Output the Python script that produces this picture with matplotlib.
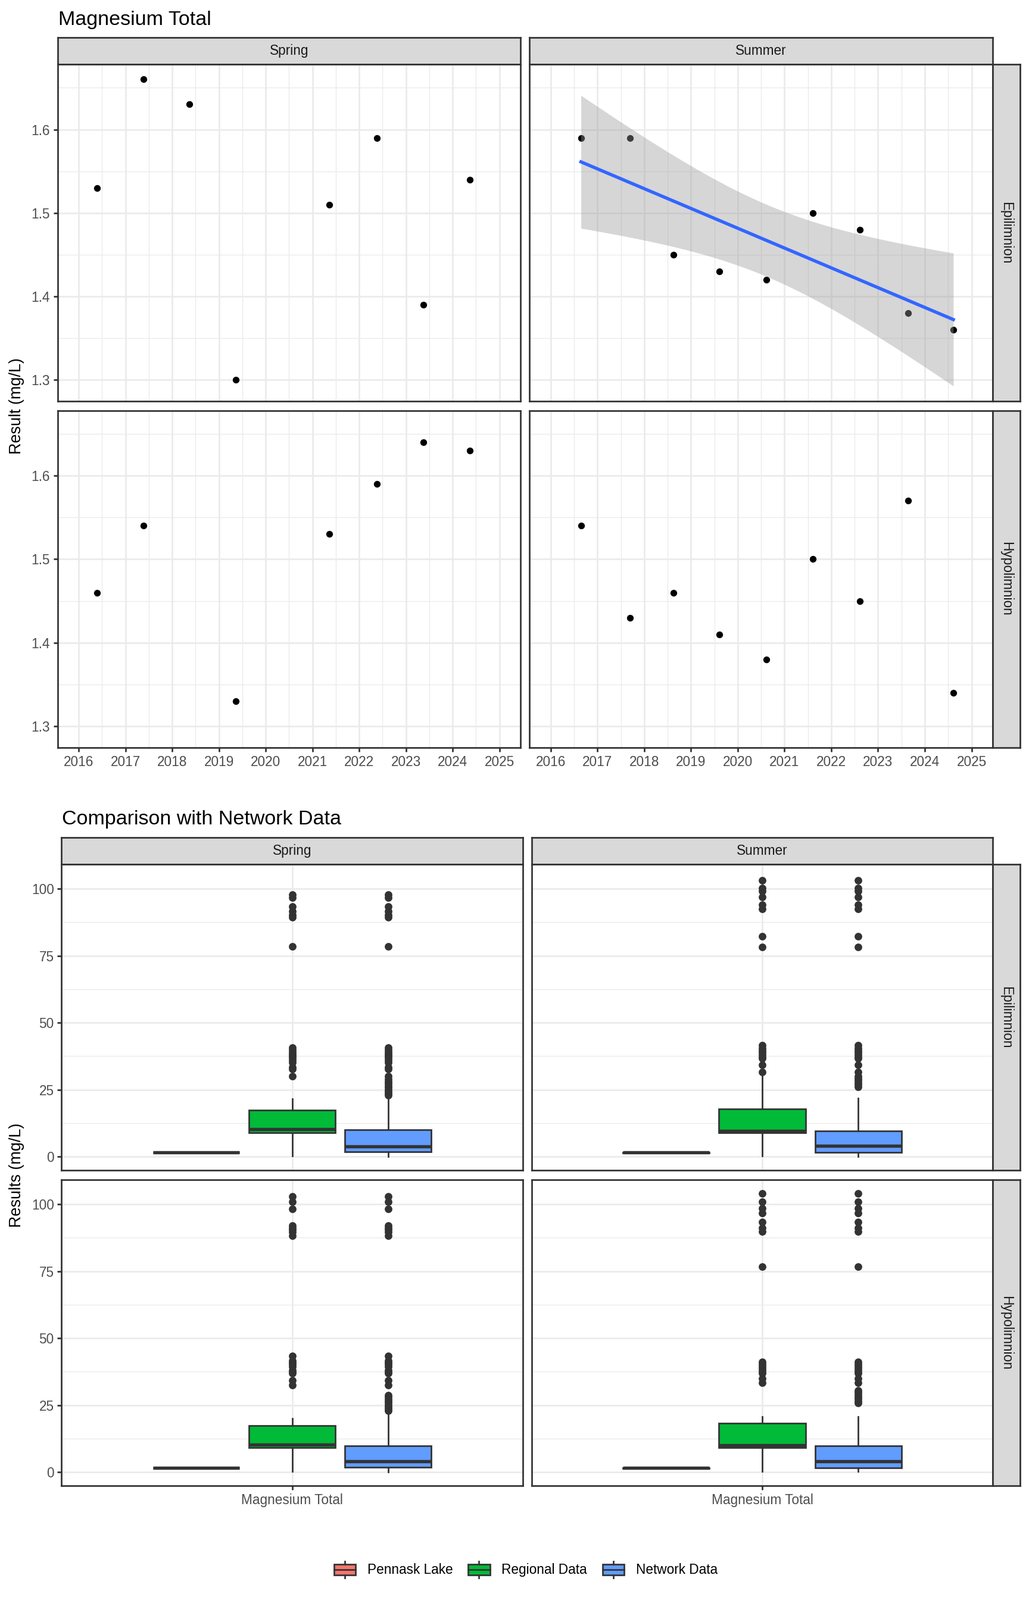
import matplotlib
matplotlib.use("Agg")
import matplotlib.dates as mdates
import matplotlib.pyplot as plt
import numpy as np
import pandas as pd
from matplotlib.cbook import boxplot_stats
from matplotlib.legend_handler import HandlerBase
from matplotlib.lines import Line2D
from matplotlib.patches import Patch, Rectangle
from matplotlib.ticker import FormatStrFormatter

plt.rcParams["font.family"] = ["Liberation Sans", "DejaVu Sans"]

# ---------------------------------------------------------------------------
# Data: lake time series (mg/L)
# ---------------------------------------------------------------------------
spring_epi_dates = ["2016-05-26", "2017-05-22", "2018-05-15", "2019-05-12",
                    "2021-05-15", "2022-05-19", "2023-05-16", "2024-05-15"]
spring_epi_vals = [1.53, 1.66, 1.63, 1.30, 1.51, 1.59, 1.39, 1.54]

spring_hypo_dates = ["2016-05-26", "2017-05-22", "2019-05-12", "2021-05-15",
                     "2022-05-19", "2023-05-16", "2024-05-15"]
spring_hypo_vals = [1.46, 1.54, 1.33, 1.53, 1.59, 1.64, 1.63]

summer_dates = ["2016-08-25", "2017-09-12", "2018-08-18", "2019-08-11", "2020-08-11",
                "2021-08-11", "2022-08-11", "2023-08-22", "2024-08-11"]
summer_epi_vals = [1.59, 1.59, 1.45, 1.43, 1.42, 1.50, 1.48, 1.38, 1.36]
summer_hypo_vals = [1.54, 1.43, 1.46, 1.41, 1.38, 1.50, 1.45, 1.57, 1.34]

seasons = ["Spring", "Summer"]
depths = ["Epilimnion", "Hypolimnion"]
groups = ["Pennask Lake", "Regional Data", "Network Data"]
group_colors = ["#F8766D", "#00BA38", "#619CFF"]
parameter = "Magnesium Total"

# ---------------------------------------------------------------------------
# Data: comparison box plot summaries (mg/L)
# ---------------------------------------------------------------------------
upper_spring_epi = [78.5, 89.3, 90.2, 91.5, 93.4, 96.7, 97.9]
lower_spring_epi = [30.1, 32.7, 33.4, 35.2, 36.0, 36.8, 37.5, 38.2, 39.0, 39.8, 40.7]
regional_spring_epi = dict(whislo=0.3, q1=9.0, med=10.2, q3=17.3, whishi=21.5,
                           fliers=lower_spring_epi + upper_spring_epi)
network_spring_epi = dict(whislo=0.0, q1=1.7, med=3.7, q3=9.9, whishi=22.0,
                          fliers=[22.8, 23.5, 24.3, 25.0, 25.8, 26.5, 27.3, 28.0, 28.8]
                          + lower_spring_epi + upper_spring_epi)

upper_summer_epi = [78.3, 82.2, 92.5, 94.0, 96.9, 99.2, 100.2, 103.2]
lower_summer_epi = [31.5, 34.2, 36.7, 37.2, 38.0, 38.8, 39.6, 40.4, 41.5]
regional_summer_epi = dict(whislo=0.3, q1=9.0, med=9.5, q3=17.8, whishi=30.3,
                           fliers=lower_summer_epi + upper_summer_epi)
network_summer_epi = dict(whislo=0.0, q1=1.6, med=4.1, q3=9.5, whishi=21.8,
                          fliers=[26.0, 26.8, 27.6, 28.4, 29.2, 30.0]
                          + lower_summer_epi + upper_summer_epi)

upper_spring_hypo = [88.3, 89.6, 90.5, 91.1, 92.0, 98.2, 100.8, 102.9]
lower_spring_hypo = [32.5, 34.2, 36.8, 37.4, 38.0, 39.4, 40.2, 40.9, 41.5, 43.3]
regional_spring_hypo = dict(whislo=0.2, q1=9.2, med=10.3, q3=17.3, whishi=20.1,
                            fliers=lower_spring_hypo + upper_spring_hypo)
network_spring_hypo = dict(whislo=0.0, q1=1.7, med=3.9, q3=9.8, whishi=22.0,
                           fliers=[22.9, 23.6, 24.3, 25.0, 25.8, 26.5, 27.2, 28.0, 28.6]
                           + lower_spring_hypo + upper_spring_hypo)

upper_summer_hypo = [76.7, 89.9, 91.1, 93.4, 96.6, 98.4, 100.9, 104.0]
lower_summer_hypo = [33.3, 34.8, 36.8, 37.6, 38.5, 39.4, 40.2, 41.2]
regional_summer_hypo = dict(whislo=0.2, q1=9.2, med=10.1, q3=18.2, whishi=20.6,
                            fliers=lower_summer_hypo + upper_summer_hypo)
network_summer_hypo = dict(whislo=0.2, q1=1.5, med=4.1, q3=9.8, whishi=20.6,
                           fliers=[25.7, 26.5, 27.3, 28.1, 28.9, 29.7, 30.5]
                           + lower_summer_hypo + upper_summer_hypo)

# ---------------------------------------------------------------------------
# Style (ggplot2 theme_bw look)
# ---------------------------------------------------------------------------
W, H, DPI = 1728, 2688, 144
GREY20, GREY30, GREY10 = "#333333", "#4D4D4D", "#1A1A1A"
GRID = "#EBEBEB"
STRIP_FILL = "#D9D9D9"
LW = 1.37
FS = 11.3
T_975_DF7 = 2.3646  # t quantile for the lm confidence band (n=9)

# pixel layout
TOP_STRIP = (62.5, 107.7)
TOP_ROWS = [(107.7, 674.2), (689.5, 1256.0)]
TOP_COLS = [(96.7, 874.0), (889.3, 1667.0)]
BOT_STRIP = (1406.7, 1451.7)
BOT_ROWS = [(1451.7, 1966.4), (1981.7, 2496.4)]
BOT_COLS = [(103.3, 877.7), (892.9, 1667.0)]
RSTRIP = (1667.0, 1713.0)

fig = plt.figure(figsize=(W / DPI, H / DPI), dpi=DPI)


def px_axes(x0, y0, x1, y1):
    return fig.add_axes([x0 / W, 1 - y1 / H, (x1 - x0) / W, (y1 - y0) / H])


def style_panel(ax, show_x, show_y):
    for s in ax.spines.values():
        s.set_color(GREY20)
        s.set_linewidth(LW)
        s.set_zorder(10)
    ax.grid(which="major", color=GRID, lw=LW, zorder=0)
    ax.grid(which="minor", color=GRID, lw=LW / 2, zorder=0)
    ax.set_axisbelow(True)
    ax.tick_params(which="minor", length=0)
    ax.tick_params(which="major", length=3.5, width=LW, color=GREY20,
                   labelsize=FS, labelcolor=GREY30, pad=2.8,
                   bottom=show_x, labelbottom=show_x, left=show_y, labelleft=show_y)


def strip(x0, y0, x1, y1, label, rotation=0):
    sax = px_axes(x0, y0, x1, y1)
    sax.set_facecolor(STRIP_FILL)
    sax.set_xticks([])
    sax.set_yticks([])
    for s in sax.spines.values():
        s.set_color(GREY20)
        s.set_linewidth(LW)
    sax.text(0.5, 0.5, label, transform=sax.transAxes, ha="center", va="center",
             fontsize=FS, color=GREY10, rotation=rotation)


# ---------------------------------------------------------------------------
# Top: time series
# ---------------------------------------------------------------------------
series = {
    ("Spring", "Epilimnion"): (spring_epi_dates, spring_epi_vals),
    ("Spring", "Hypolimnion"): (spring_hypo_dates, spring_hypo_vals),
    ("Summer", "Epilimnion"): (summer_dates, summer_epi_vals),
    ("Summer", "Hypolimnion"): (summer_dates, summer_hypo_vals),
}

# linear fit with 95% band for summer epilimnion (geom_smooth(method="lm"))
sx = mdates.date2num(pd.to_datetime(summer_dates))
sy = np.array(summer_epi_vals)
slope, intercept = np.polyfit(sx, sy, 1)
resid = sy - (slope * sx + intercept)
s_err = np.sqrt(np.sum(resid ** 2) / (len(sx) - 2))
fit_x = np.linspace(sx.min(), sx.max(), 80)
fit_y = slope * fit_x + intercept
se = s_err * np.sqrt(1 / len(sx) + (fit_x - sx.mean()) ** 2 / np.sum((sx - sx.mean()) ** 2))
fit_lo, fit_hi = fit_y - T_975_DF7 * se, fit_y + T_975_DF7 * se

all_vals = spring_epi_vals + spring_hypo_vals + summer_epi_vals + summer_hypo_vals
ymin = min(min(all_vals), fit_lo.min())
ymax = max(max(all_vals), fit_hi.max())
ypad = 0.05 * (ymax - ymin)

year_ticks = pd.to_datetime([f"{y}-01-01" for y in range(2016, 2026)])
xt = mdates.date2num(year_ticks)
xpad = 0.05 * (xt[-1] - xt[0])
x_minor = (xt[:-1] + xt[1:]) / 2

for c, season in enumerate(seasons):
    strip(TOP_COLS[c][0], TOP_STRIP[0], TOP_COLS[c][1], TOP_STRIP[1], season)
    for r, depth in enumerate(depths):
        ax = px_axes(TOP_COLS[c][0], TOP_ROWS[r][0], TOP_COLS[c][1], TOP_ROWS[r][1])
        dates, vals = series[(season, depth)]
        ax.scatter(mdates.date2num(pd.to_datetime(dates)), vals, s=32, color="black",
                   lw=0, zorder=2)
        if (season, depth) == ("Summer", "Epilimnion"):
            ax.fill_between(fit_x, fit_lo, fit_hi, color="#999999", alpha=0.4, lw=0, zorder=3)
            ax.plot(fit_x, fit_y, color="#3366FF", lw=2.74, zorder=4)
        ax.set_xlim(xt[0] - xpad, xt[-1] + xpad)
        ax.set_ylim(ymin - ypad, ymax + ypad)
        ax.set_xticks(xt)
        ax.set_xticks(x_minor, minor=True)
        ax.xaxis.set_major_formatter(mdates.DateFormatter("%Y"))
        ax.set_yticks([1.3, 1.4, 1.5, 1.6])
        ax.set_yticks([1.35, 1.45, 1.55, 1.65], minor=True)
        ax.yaxis.set_major_formatter(FormatStrFormatter("%.1f"))
        style_panel(ax, show_x=(r == 1), show_y=(c == 0))
        if c == 1:
            strip(RSTRIP[0], TOP_ROWS[r][0], RSTRIP[1], TOP_ROWS[r][1], depth, rotation=-90)

fig.text(97.7 / W, 1 - 41.7 / H, "Magnesium Total", fontsize=17, color="black",
         ha="left", va="baseline")
fig.text(28 / W, 1 - (TOP_ROWS[0][0] + TOP_ROWS[1][1]) / 2 / H, "Result (mg/L)",
         rotation=90, ha="center", va="center", fontsize=13.5, color="black")

# ---------------------------------------------------------------------------
# Bottom: comparison box plots
# ---------------------------------------------------------------------------
lake_vals = {
    ("Spring", "Epilimnion"): spring_epi_vals,
    ("Spring", "Hypolimnion"): spring_hypo_vals,
    ("Summer", "Epilimnion"): summer_epi_vals,
    ("Summer", "Hypolimnion"): summer_hypo_vals,
}
regional = {
    ("Spring", "Epilimnion"): regional_spring_epi,
    ("Spring", "Hypolimnion"): regional_spring_hypo,
    ("Summer", "Epilimnion"): regional_summer_epi,
    ("Summer", "Hypolimnion"): regional_summer_hypo,
}
network = {
    ("Spring", "Epilimnion"): network_spring_epi,
    ("Spring", "Hypolimnion"): network_spring_hypo,
    ("Summer", "Epilimnion"): network_summer_epi,
    ("Summer", "Hypolimnion"): network_summer_hypo,
}

lo_all, hi_all = [], []
stats_all = {}
for key in lake_vals:
    st = [boxplot_stats(lake_vals[key])[0], dict(regional[key]), dict(network[key])]
    stats_all[key] = st
    for s in st:
        pts = [s["whislo"], s["whishi"]] + list(s["fliers"])
        lo_all.append(min(pts))
        hi_all.append(max(pts))
bmin, bmax = min(lo_all), max(hi_all)
bpad = 0.05 * (bmax - bmin)

dodge = 0.25
positions = [1 - dodge, 1, 1 + dodge]

for c, season in enumerate(seasons):
    strip(BOT_COLS[c][0], BOT_STRIP[0], BOT_COLS[c][1], BOT_STRIP[1], season)
    for r, depth in enumerate(depths):
        ax = px_axes(BOT_COLS[c][0], BOT_ROWS[r][0], BOT_COLS[c][1], BOT_ROWS[r][1])
        out = ax.bxp(stats_all[(season, depth)], positions=positions, widths=0.9 * dodge,
                     patch_artist=True, showcaps=False, manage_ticks=False,
                     boxprops=dict(edgecolor=GREY20, lw=LW),
                     medianprops=dict(color=GREY20, lw=2.74, solid_capstyle="butt"),
                     whiskerprops=dict(color=GREY20, lw=LW),
                     flierprops=dict(marker="o", markerfacecolor=GREY20,
                                     markeredgecolor=GREY20, markersize=5.4))
        for box, col in zip(out["boxes"], group_colors):
            box.set_facecolor(col)
            box.set_zorder(3)
        for ln in out["medians"] + out["whiskers"] + out["fliers"]:
            ln.set_zorder(4)
        ax.set_xlim(0.4, 1.6)
        ax.set_ylim(bmin - bpad, bmax + bpad)
        ax.set_xticks([1])
        ax.set_xticklabels([parameter])
        ax.set_yticks([0, 25, 50, 75, 100])
        ax.set_yticks([12.5, 37.5, 62.5, 87.5], minor=True)
        style_panel(ax, show_x=(r == 1), show_y=(c == 0))
        if c == 1:
            strip(RSTRIP[0], BOT_ROWS[r][0], RSTRIP[1], BOT_ROWS[r][1], depth, rotation=-90)

fig.text(104.5 / W, 1 - 1384.8 / H, "Comparison with Network Data", fontsize=17,
         color="black", ha="left", va="baseline")
fig.text(28 / W, 1 - (BOT_ROWS[0][0] + BOT_ROWS[1][1]) / 2 / H, "Results (mg/L)",
         rotation=90, ha="center", va="center", fontsize=13.5, color="black")


# legend with boxplot-style keys
class BoxKey(HandlerBase):
    def create_artists(self, legend, orig_handle, xdescent, ydescent, width, height,
                       fontsize, trans):
        x0, y0 = -xdescent, -ydescent
        xm = x0 + width / 2
        rect = Rectangle((x0, y0 + 0.25 * height), width, 0.5 * height,
                         facecolor=orig_handle.get_facecolor(), edgecolor=GREY20,
                         lw=LW, transform=trans)
        med = Line2D([x0, x0 + width], [y0 + 0.5 * height] * 2, color=GREY20, lw=LW,
                     transform=trans)
        w1 = Line2D([xm, xm], [y0 + 0.1 * height, y0 + 0.25 * height], color=GREY20,
                    lw=LW, transform=trans)
        w2 = Line2D([xm, xm], [y0 + 0.75 * height, y0 + 0.9 * height], color=GREY20,
                    lw=LW, transform=trans)
        return [rect, med, w1, w2]


handles = [Patch(facecolor=col) for col in group_colors]
fig.legend(handles, groups, loc="center", bbox_to_anchor=(883 / W, 1 - 2637 / H),
           ncol=3, frameon=False, handler_map={Patch: BoxKey()}, fontsize=FS,
           handlelength=1.6, handleheight=2.0, handletextpad=0.88, columnspacing=1.15)

fig.savefig("out.png", dpi=DPI, facecolor="white")
